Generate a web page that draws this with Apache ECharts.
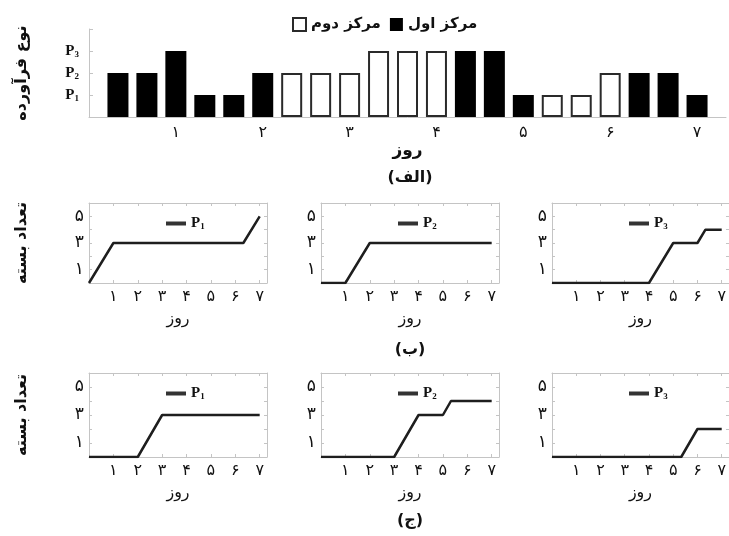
<!DOCTYPE html>
<html>
<head>
<meta charset="utf-8">
<script src="https://cdn.jsdelivr.net/npm/echarts@6/dist/echarts.min.js"></script>
<style>
  html, body { margin: 0; padding: 0; background: #fff; }
  #main { width: 729px; height: 536px; }
</style>
</head>
<body>
<div id="main"></div>
<script>
// --- data ---
var dayLabels = ['۱', '۲', '۳', '۴', '۵', '۶', '۷'];
var countTickLabels = ['', '۱', '', '۳', '', '۵', ''];
// 21 periods (3 per day): product type (1=P1, 2=P2, 3=P3) and which centre
var productLevel = [2, 2, 3, 1, 1, 2, 2, 2, 2, 3, 3, 3, 3, 3, 1, 1, 1, 2, 2, 2, 1];
var centerOf     = [1, 1, 1, 1, 1, 1, 2, 2, 2, 2, 2, 2, 1, 1, 1, 2, 2, 2, 1, 1, 1];
var centerNames = ['مرکز اول', 'مرکز دوم'];

// package counts per day, row (ب)
var bP1 = [[0, 0], [1, 3], [6.33, 3], [7, 5]];
var bP2 = [[0, 0], [1, 0], [2, 3], [7, 3]];
var bP3 = [[0, 0], [4, 0], [5, 3], [6, 3], [6.33, 4], [7, 4]];
// row (ج)
var jP1 = [[0, 0], [2, 0], [3, 3], [7, 3]];
var jP2 = [[0, 0], [3, 0], [4, 3], [5, 3], [5.33, 4], [7, 4]];
var jP3 = [[0, 0], [5.33, 0], [6, 2], [7, 2]];

var faFont = 'DejaVu Sans';
var pFont = 'Liberation Serif';
var gray = '#c4c4c4';
var lineColor = '#1e1e1e';

var pRich = {
    p: { fontFamily: pFont, fontWeight: 'bold', fontSize: 15, color: '#111' },
    s: { fontFamily: pFont, fontWeight: 'bold', fontSize: 9, color: '#111', verticalAlign: 'bottom', padding: [7, 0, 0, 0] }
};

var grids = [], xAxes = [], yAxes = [], series = [], legends = [];

// ---- top bar chart (الف) ----
grids.push({ left: 89, right: 0, top: 29, height: 88 });
xAxes.push({
    gridIndex: 0, type: 'value', min: 0, max: 22, interval: 3,
    axisLine: { onZero: false, lineStyle: { color: gray } }, axisTick: { show: false }, splitLine: { show: false },
    axisLabel: {
        margin: 8, color: '#111', fontFamily: faFont, fontSize: 16,
        formatter: function (v) { return (v > 0 && v % 3 === 0) ? dayLabels[v / 3 - 1] : ''; }
    },
    name: 'روز', nameLocation: 'middle', nameGap: 23,
    nameTextStyle: { fontFamily: faFont, fontSize: 17, fontWeight: 'bold', color: '#111' }
});
yAxes.push({
    gridIndex: 0, type: 'value', min: 0, max: 4, interval: 1,
    axisLine: { show: true, onZero: false, lineStyle: { color: gray } },
    axisTick: { show: true, inside: true, length: 4, lineStyle: { color: gray } },
    splitLine: { show: false },
    axisLabel: {
        margin: 10, rich: pRich,
        formatter: function (v) { return (v >= 1 && v <= 3) ? '{p|P}{s|' + v + '}' : ''; }
    },
    name: 'نوع فرآورده', nameLocation: 'middle', nameRotate: 90, nameGap: 59,
    nameTextStyle: { fontFamily: faFont, fontSize: 16, fontWeight: 'bold', color: '#111' }
});
[1, 2].forEach(function (c) {
    var data = productLevel.map(function (lv, i) {
        return centerOf[i] === c ? [i + 1, lv] : [i + 1, '-'];
    });
    series.push({
        name: centerNames[c - 1], type: 'bar', xAxisIndex: 0, yAxisIndex: 0,
        barWidth: 21, barGap: '-100%',
        itemStyle: c === 1 ? { color: '#000' } : { color: '#fff', borderColor: '#2a2a2a', borderWidth: 2 },
        data: data
    });
});
legends.push({
    data: [{ name: centerNames[1], icon: 'rect' }, { name: centerNames[0], icon: 'rect' }],
    left: 287, top: 12,
    itemWidth: 13, itemHeight: 13, itemGap: 9,
    textStyle: { fontFamily: faFont, fontSize: 15, fontWeight: 'bold', color: '#111' }
});

// ---- small line charts (ب) and (ج) ----
var lefts = [89, 321, 552];
var rows = [
    { top: 203, height: 80, sets: [bP1, bP2, bP3], legendTop: 211 },
    { top: 373, height: 84, sets: [jP1, jP2, jP3], legendTop: 381 }
];
var pNames = ['P1', 'P2', 'P3'];

rows.forEach(function (row) {
    row.sets.forEach(function (set, k) {
        var g = grids.length;
        grids.push({ left: lefts[k], width: 178, top: row.top, height: row.height });
        var xi = xAxes.length, yi = yAxes.length;
        xAxes.push({
            gridIndex: g, type: 'value', min: 0, max: 7.3, interval: 1,
            axisLine: { onZero: false, lineStyle: { color: gray } },
            axisTick: { inside: true, length: 3, lineStyle: { color: gray } },
            splitLine: { show: false },
            axisLabel: {
                margin: 6, color: '#111', fontFamily: faFont, fontSize: 16, showMaxLabel: false,
                formatter: function (v) { return (Number.isInteger(v) && v >= 1 && v <= 7) ? dayLabels[v - 1] : ''; }
            },
            name: 'روز', nameLocation: 'middle', nameGap: 28,
            nameTextStyle: { fontFamily: faFont, fontSize: 16, color: '#111' }
        });
        xAxes.push({
            gridIndex: g, type: 'value', min: 0, max: 7.3, interval: 1, position: 'top',
            axisLine: { onZero: false, lineStyle: { color: gray } },
            axisTick: { inside: true, length: 3, lineStyle: { color: gray } },
            axisLabel: { show: false }, splitLine: { show: false }
        });
        yAxes.push({
            gridIndex: g, type: 'value', min: 0, max: 6, interval: 1,
            axisLine: { show: true, onZero: false, lineStyle: { color: gray } },
            axisTick: { show: true, inside: true, length: 3, lineStyle: { color: gray } },
            splitLine: { show: false },
            axisLabel: {
                margin: 5, color: '#111', fontFamily: faFont, fontSize: 17,
                formatter: function (v) { return countTickLabels[v] || ''; }
            },
            name: k === 0 ? 'تعداد بسته' : '', nameLocation: 'middle', nameRotate: 90, nameGap: 59,
            nameTextStyle: { fontFamily: faFont, fontSize: 16, fontWeight: 'bold', color: '#111' }
        });
        yAxes.push({
            gridIndex: g, type: 'value', min: 0, max: 6, interval: 1, position: 'right',
            axisLine: { show: true, onZero: false, lineStyle: { color: gray } },
            axisTick: { show: true, inside: true, length: 3, lineStyle: { color: gray } },
            axisLabel: { show: false }, splitLine: { show: false }
        });
        series.push({
            name: pNames[k], type: 'line', xAxisIndex: xi, yAxisIndex: yi,
            symbol: 'none', lineStyle: { width: 2.5, color: lineColor }, itemStyle: { color: lineColor },
            data: set
        });
        legends.push({
            data: [{ name: pNames[k], icon: 'rect', itemStyle: { color: '#333' } }],
            left: lefts[k] + 72, top: row.legendTop,
            itemWidth: 20, itemHeight: 4, itemGap: 4,
            formatter: function (n) { return '{p|P}{s|' + n.slice(1) + '}'; },
            textStyle: { rich: pRich }
        });
    });
});

var myChart = echarts.init(document.getElementById('main'), null, { renderer: 'canvas' });
myChart.setOption({
    animation: false,
    backgroundColor: '#fff',
    grid: grids,
    xAxis: xAxes,
    yAxis: yAxes,
    legend: legends,
    series: series,
    graphic: [
        { type: 'text', x: 410, y: 178, style: { text: '(الف)', textAlign: 'center', textVerticalAlign: 'middle', font: 'bold 16px "DejaVu Sans"', fill: '#111' } },
        { type: 'text', x: 410, y: 350, style: { text: '(ب)', textAlign: 'center', textVerticalAlign: 'middle', font: 'bold 16px "DejaVu Sans"', fill: '#111' } },
        { type: 'text', x: 410, y: 521, style: { text: '(ج)', textAlign: 'center', textVerticalAlign: 'middle', font: 'bold 16px "DejaVu Sans"', fill: '#111' } }
    ]
});
</script>
</body>
</html>
